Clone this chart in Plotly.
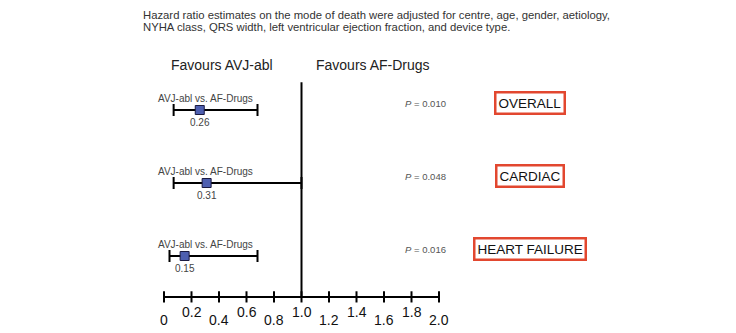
import plotly.graph_objects as go

# ---- data ----
categories = ["OVERALL", "CARDIAC", "HEART FAILURE"]
comparison = "AVJ-abl vs. AF-Drugs"
hazard_ratio = [0.26, 0.31, 0.15]
ci_low = [0.07, 0.07, 0.04]
ci_high = [0.68, 1.0, 0.68]
p_values = ["0.010", "0.048", "0.016"]
tick_values = [0, 0.2, 0.4, 0.6, 0.8, 1.0, 1.2, 1.4, 1.6, 1.8, 2.0]
tick_labels = ["0", "0.2", "0.4", "0.6", "0.8", "1.0", "1.2", "1.4", "1.6", "1.8", "2.0"]
title_lines = [
    "Hazard ratio estimates on the mode of death were adjusted for centre, age, gender, aetiology,",
    "NYHA class, QRS width, left ventricular ejection fraction, and device type.",
]
favours = ["Favours AVJ-abl", "Favours AF-Drugs"]

# ---- layout helpers ----
W, H = 736, 333
FONT = "Liberation Sans, Arial, sans-serif"
rows = list(range(len(categories)))
axis_row = 2.56          # row-coordinate of the horizontal axis
ref_top = -0.38          # top of the reference line at HR = 1
x0_px, px_per_unit = 164.0, 137.5
row0_px, px_per_row = 110.0, 73.0

x_range = [-x0_px / px_per_unit, (W - x0_px) / px_per_unit]
y_range = [(H - row0_px) / px_per_row, -row0_px / px_per_row]

fig = go.Figure()

# axis line and reference line
fig.add_trace(go.Scatter(x=[tick_values[0], tick_values[-1]], y=[axis_row, axis_row],
                         mode="lines", line=dict(color="black", width=2),
                         hoverinfo="skip", showlegend=False))
fig.add_trace(go.Scatter(x=[1.0, 1.0], y=[ref_top, axis_row],
                         mode="lines", line=dict(color="black", width=2),
                         hoverinfo="skip", showlegend=False))
# tick marks crossing the axis
fig.add_trace(go.Scatter(x=tick_values, y=[axis_row] * len(tick_values), mode="markers",
                         marker=dict(symbol="line-ns", size=8,
                                     line=dict(color="black", width=2)),
                         hoverinfo="skip", showlegend=False))

# confidence intervals + point estimates
fig.add_trace(go.Scatter(
    x=hazard_ratio, y=rows, mode="markers",
    marker=dict(symbol="square", size=9, color="#4e5fb0",
                line=dict(color="#1a1a40", width=1)),
    error_x=dict(type="data", symmetric=False,
                 array=[h - m for h, m in zip(ci_high, hazard_ratio)],
                 arrayminus=[m - l for m, l in zip(hazard_ratio, ci_low)],
                 color="black", thickness=2, width=6),
    showlegend=False))

ann = []
# tick labels (alternating heights)
for i, (v, t) in enumerate(zip(tick_values, tick_labels)):
    ann.append(dict(x=v, y=axis_row, xref="x", yref="y", text=t, showarrow=False,
                    xanchor="center", yanchor="middle",
                    yshift=-23 if i % 2 == 0 else -15,
                    font=dict(family=FONT, size=14, color="#111")))

for r, cat, hrv, lo, p in zip(rows, categories, hazard_ratio, ci_low, p_values):
    # comparison label above the CI
    ann.append(dict(x=0.30, y=r, xref="x", yref="y", text=comparison, showarrow=False,
                    xanchor="center", yanchor="middle",
                    yshift=12, font=dict(family=FONT, size=10, color="#444")))
    # HR value under the square
    ann.append(dict(x=hrv, y=r, xref="x", yref="y", text=f"{hrv:.2f}", showarrow=False,
                    xanchor="center", yanchor="middle",
                    yshift=-12, font=dict(family=FONT, size=10, color="#444")))
    # p value
    ann.append(dict(x=425 / W, y=r, xref="paper", yref="y",
                    text=f"<i>P</i> = {p}", showarrow=False, yshift=7,
                    xanchor="center", yanchor="middle",
                    font=dict(family=FONT, size=9.5, color="#555")))
    # boxed category name
    ann.append(dict(x=530 / W, y=r, xref="paper", yref="y", text=cat, showarrow=False,
                    xanchor="center", yanchor="middle",
                    yshift=7, bordercolor="#e2472f", borderwidth=2.5, borderpad=2,
                    bgcolor="white",
                    font=dict(family=FONT, size=13.5, color="#111")))

# favours labels
ann.append(dict(x=222 / W, y=1 - 65 / H, xref="paper", yref="paper", text=favours[0],
                showarrow=False, xanchor="center", yanchor="middle",
                font=dict(family=FONT, size=14, color="#222")))
ann.append(dict(x=373 / W, y=1 - 65 / H, xref="paper", yref="paper", text=favours[1],
                showarrow=False, xanchor="center", yanchor="middle",
                font=dict(family=FONT, size=14, color="#222")))

# explanatory text
for k, line in enumerate(title_lines):
    ann.append(dict(x=141 / W, y=1 - (15 + 12.5 * k) / H, xref="paper", yref="paper",
                    text=line, showarrow=False, xanchor="left", yanchor="middle",
                    font=dict(family=FONT, size=11.3, color="#333")))

fig.update_layout(
    width=W, height=H,
    margin=dict(l=0, r=0, t=0, b=0),
    paper_bgcolor="white", plot_bgcolor="white",
    xaxis=dict(range=x_range, visible=False, fixedrange=True),
    yaxis=dict(range=y_range, visible=False, fixedrange=True),
    annotations=ann,
    showlegend=False,
)

fig.write_html("out.html", config={"displayModeBar": False},
               post_script="document.body.style.margin='0';document.body.style.overflow='hidden';")
